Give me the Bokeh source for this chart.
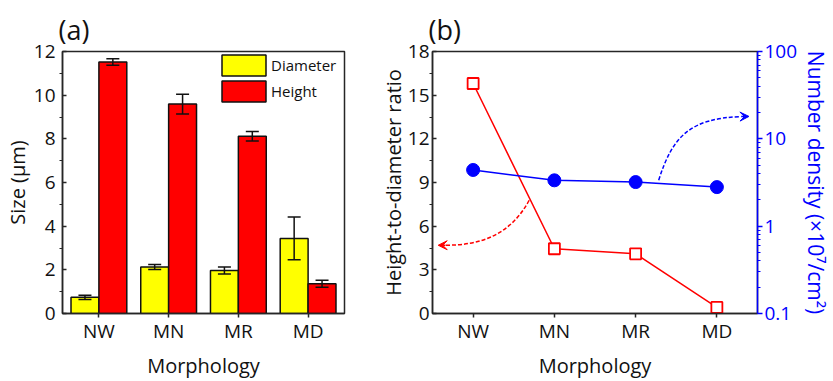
from bokeh.plotting import figure
from bokeh.layouts import row
from bokeh.models import (FactorRange, Range1d, LogScale, LogAxis, FixedTicker, Legend,
                          Arrow, VeeHead, ColumnDataSource, NumeralTickFormatter)
from bokeh.transform import dodge
from bokeh.embed import file_html
from bokeh.resources import INLINE

# ---------------- data ----------------
categories = ["NW", "MN", "MR", "MD"]
diameter = [0.74, 2.13, 1.97, 3.44]
diameter_err = [0.10, 0.12, 0.16, 0.98]
height = [11.52, 9.59, 8.12, 1.36]
height_err = [0.15, 0.45, 0.22, 0.16]
ratio = [15.8, 4.45, 4.1, 0.42]
density = [4.4, 3.35, 3.2, 2.8]

size_ticks = [0, 2, 4, 6, 8, 10, 12]
ratio_ticks = [0, 3, 6, 9, 12, 15, 18]
density_ticks = [0.1, 1, 10, 100]

# annotation arrows (synthetic categorical x, left-axis y)
red_curve = dict(x0=[1.19], y0=[7.78], cx0=[0.957], cy0=[5.37], cx1=[0.586], cy1=[4.69], x1=[0.16], y1=[4.69])
red_tip = (0.07, 4.69)
blue_curve = dict(x0=[2.784], y0=[9.15], cx0=[2.957], cy0=[12.24], cx1=[3.179], cy1=[13.4], x1=[3.80], y1=[13.53])
blue_tip = (3.895, 13.54)

FONT = "Open Sans"
AX = "#262626"

src = ColumnDataSource(dict(
    cat=categories, diameter=diameter, height=height, ratio=ratio, density=density,
    d_lo=[v - e for v, e in zip(diameter, diameter_err)],
    d_hi=[v + e for v, e in zip(diameter, diameter_err)],
    h_lo=[v - e for v, e in zip(height, height_err)],
    h_hi=[v + e for v, e in zip(height, height_err)],
))


def style_axis(ax):
    ax.axis_line_color = AX
    ax.axis_line_width = 1.5
    ax.major_tick_line_color = AX
    ax.minor_tick_line_color = AX
    ax.major_tick_line_width = 1.5
    ax.minor_tick_line_width = 1.2
    ax.major_label_text_font = FONT
    ax.major_label_text_font_size = "19px"
    ax.major_label_text_color = "#111111"
    ax.axis_label_text_font = FONT
    ax.axis_label_text_font_size = "20px"
    ax.axis_label_text_font_style = "normal"
    ax.axis_label_text_color = "#111111"


def base_fig(width, mbl, mbr, title, x_range, y_range):
    p = figure(width=width, height=381, x_range=x_range, y_range=y_range,
               output_backend="svg", toolbar_location=None, title=title,
               min_border_left=mbl, min_border_right=mbr, min_border_top=51, min_border_bottom=68)
    p.title.text_font = FONT
    p.title.text_font_size = "27px"
    p.title.text_font_style = "normal"
    p.title.text_color = "#111111"
    p.title.standoff = 8
    p.title.offset = -4
    p.xgrid.visible = False
    p.ygrid.visible = False
    p.outline_line_color = AX
    p.outline_line_width = 1.5
    p.outline_line_alpha = 1
    p.background_fill_color = "white"
    p.border_fill_color = "white"
    style_axis(p.xaxis[0])
    style_axis(p.yaxis[0])
    p.xaxis.major_tick_in = 0
    p.xaxis.major_tick_out = 4
    p.xaxis.major_label_standoff = 0
    p.xaxis.axis_label = "Morphology"
    p.xaxis.axis_label_standoff = 5
    p.yaxis.major_tick_in = 4
    p.yaxis.major_tick_out = 0
    p.yaxis.minor_tick_in = 0
    p.yaxis.minor_tick_out = 3
    return p


# ---------------- panel (a) ----------------
pa = base_fig(376, 58, 32, "(a)", FactorRange(*categories, range_padding=0.011), Range1d(0, 12))
pa.yaxis.ticker = FixedTicker(ticks=size_ticks, minor_ticks=[t + 1 for t in size_ticks[:-1]])
pa.yaxis.axis_label = "Size (μm)"
pa.yaxis.major_label_standoff = 4
pa.yaxis.axis_label_standoff = 0

xd = dodge("cat", -0.2, range=pa.x_range)
xh = dodge("cat", 0.2, range=pa.x_range)
r_d = pa.vbar(x=xd, top="diameter", width=0.4, source=src, fill_color="#FFFF00",
              line_color="#111111", line_width=1.5)
r_h = pa.vbar(x=xh, top="height", width=0.4, source=src, fill_color="#FF0000",
              line_color="#111111", line_width=1.5)
for xx, lo, hi in ((xd, "d_lo", "d_hi"), (xh, "h_lo", "h_hi")):
    pa.segment(x0=xx, y0=lo, x1=xx, y1=hi, source=src, line_color="#111111", line_width=1.5)
    pa.scatter(x=xx, y=lo, source=src, marker="dash", size=13, line_color="#111111", line_width=1.5)
    pa.scatter(x=xx, y=hi, source=src, marker="dash", size=13, line_color="#111111", line_width=1.5)

legend = Legend(items=[("Diameter", [r_d]), ("Height", [r_h])], location=(154, 209),
                glyph_width=55, glyph_height=26, spacing=-2, padding=0, margin=0,
                label_standoff=-9, label_height=26,
                border_line_alpha=0, background_fill_alpha=0,
                label_text_font=FONT, label_text_font_size="15px", label_text_color="#111111")
pa.add_layout(legend)

# ---------------- panel (b) ----------------
pb = base_fig(457, 56, 76, "(b)", FactorRange(*categories), Range1d(0, 18))
pb.yaxis.ticker = FixedTicker(ticks=ratio_ticks, minor_ticks=[t + 1.5 for t in ratio_ticks[:-1]])
pb.yaxis.axis_label = "Height-to-diameter ratio"
pb.yaxis.major_label_standoff = 0
pb.yaxis.axis_label_standoff = -2

pb.extra_y_ranges = {"dens": Range1d(0.1, 100)}
pb.extra_y_scales = {"dens": LogScale()}
minor_log = [k * 10.0 ** e for e in (-1, 0, 1) for k in range(2, 10)]
rax = LogAxis(y_range_name="dens", ticker=FixedTicker(ticks=density_ticks, minor_ticks=minor_log),
              formatter=NumeralTickFormatter(format="0.[0]"))
style_axis(rax)
BLUE = "#0000FF"
rax.axis_line_color = BLUE
rax.major_tick_line_color = BLUE
rax.minor_tick_line_color = BLUE
rax.major_label_text_color = BLUE
rax.axis_label_text_color = BLUE
rax.axis_label_text_font_size = "21px"
rax.major_tick_in = 0
rax.major_tick_out = 5
rax.minor_tick_in = 0
rax.minor_tick_out = 3
rax.major_label_standoff = 2
rax.axis_label_standoff = 2
rax.axis_label = "Number density (×10⁷/cm²)"
pb.add_layout(rax, "right")

pb.line(x="cat", y="ratio", source=src, line_color="#FF0000", line_width=1.5)
pb.scatter(x="cat", y="ratio", source=src, marker="square", size=11, fill_color="white",
           line_color="#FF0000", line_width=1.8)
pb.line(x="cat", y="density", source=src, y_range_name="dens", line_color=BLUE, line_width=1.5)
pb.scatter(x="cat", y="density", source=src, y_range_name="dens", marker="circle", size=13,
           fill_color=BLUE, line_color=BLUE)

pb.bezier(source=ColumnDataSource(red_curve), x0="x0", y0="y0", x1="x1", y1="y1",
          cx0="cx0", cy0="cy0", cx1="cx1", cy1="cy1", line_color="#FF0000", line_width=1.5,
          line_dash="4 2")
pb.add_layout(Arrow(end=VeeHead(size=9, fill_color="#FF0000", line_color="#FF0000", line_width=1),
                    x_start=red_curve["x1"][0], y_start=red_curve["y1"][0],
                    x_end=red_tip[0], y_end=red_tip[1], line_color="#FF0000", line_width=1.5,
                    line_dash="4 2"))
pb.bezier(source=ColumnDataSource(blue_curve), x0="x0", y0="y0", x1="x1", y1="y1",
          cx0="cx0", cy0="cy0", cx1="cx1", cy1="cy1", line_color=BLUE, line_width=1.5,
          line_dash="4 2")
pb.add_layout(Arrow(end=VeeHead(size=9, fill_color=BLUE, line_color=BLUE, line_width=1),
                    x_start=blue_curve["x1"][0], y_start=blue_curve["y1"][0],
                    x_end=blue_tip[0], y_end=blue_tip[1], line_color=BLUE, line_width=1.5,
                    line_dash="4 2"))

layout = row(pa, pb)
open("out.html", "w").write(file_html(layout, INLINE))
